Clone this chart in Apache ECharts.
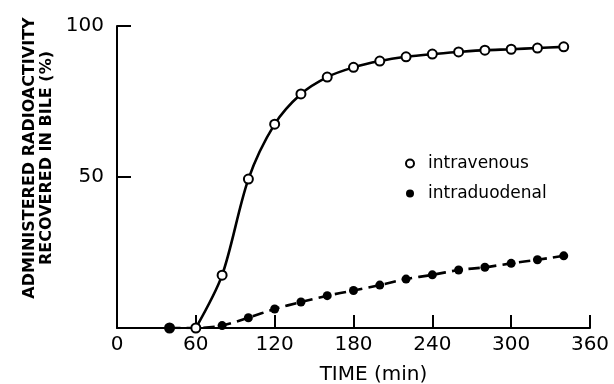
<!DOCTYPE html>
<html>
<head>
<meta charset="utf-8">
<script src="https://cdn.jsdelivr.net/npm/echarts@6/dist/echarts.min.js"></script>
<style>
html,body{margin:0;padding:0;background:#fff;}
#chart{width:614px;height:384px;}
</style>
</head>
<body>
<div id="chart"></div>
<script>
// Data
var timeMin = [40, 60, 80, 100, 120, 140, 160, 180, 200, 220, 240, 260, 280, 300, 320, 340];
var intravenous = [0, 0, 17.5, 49.3, 67.5, 77.5, 83.1, 86.3, 88.4, 89.8, 90.7, 91.4, 92.0, 92.3, 92.7, 93.1];
var intraduodenal = [0, 0, 0.8, 3.4, 6.3, 8.6, 10.7, 12.4, 14.2, 16.2, 17.6, 19.2, 20.1, 21.4, 22.6, 23.9];
var seriesNames = ['intravenous', 'intraduodenal'];
var xTicks = [0, 60, 120, 180, 240, 300, 360];
var yTicks = [0, 50, 100];
var xTitle = 'TIME (min)';
var yTitle = 'ADMINISTERED RADIOACTIVITY\nRECOVERED IN BILE (%)';

function pairs(xs, ys) { return xs.map(function (x, i) { return [x, ys[i]]; }); }

var ivPts = pairs(timeMin, intravenous);
var idPts = pairs(timeMin, intraduodenal);
// the intravenous curve rises from the 60-min point; the 40-min baseline point is drawn as a marker only
var ivBaseline = ivPts.slice(0, 1);
var ivCurve = ivPts.slice(1);

var FONT = 'DejaVu Sans';
var chart = echarts.init(document.getElementById('chart'), null, { renderer: 'canvas' });
chart.setOption({
  animation: false,
  backgroundColor: '#fff',
  textStyle: { fontFamily: FONT, color: '#000' },
  grid: { left: 117, right: 24, top: 26, bottom: 56, containLabel: false, outerBoundsMode: 'none' },
  legend: {
    orient: 'vertical',
    left: 400,
    top: 150,
    itemWidth: 26,
    itemHeight: 8,
    itemGap: 13,
    textStyle: { fontFamily: FONT, fontSize: 17, color: '#000', lineHeight: 17 },
    data: [
      { name: seriesNames[0], icon: 'emptyCircle' },
      { name: seriesNames[1], icon: 'circle' }
    ]
  },
  xAxis: {
    type: 'value',
    min: xTicks[0],
    max: xTicks[xTicks.length - 1],
    interval: xTicks[1] - xTicks[0],
    name: xTitle,
    nameLocation: 'middle',
    nameGap: 37,
    nameTextStyle: { fontFamily: FONT, fontSize: 20, color: '#000', padding: [0, 0, 0, 40] },
    axisLine: { lineStyle: { color: '#000', width: 2 } },
    axisTick: { inside: true, length: 13, lineStyle: { color: '#000', width: 2 } },
    axisLabel: { fontFamily: FONT, fontSize: 20, color: '#000', margin: 7 },
    splitLine: { show: false }
  },
  yAxis: {
    type: 'value',
    min: yTicks[0],
    max: yTicks[yTicks.length - 1],
    interval: yTicks[1] - yTicks[0],
    name: yTitle,
    nameLocation: 'middle',
    nameGap: 61,
    nameTextStyle: { fontFamily: FONT, fontSize: 16, fontWeight: 'bold', color: '#000', lineHeight: 17, padding: [0, 0, 0, 38] },
    axisLine: { lineStyle: { color: '#000', width: 2 } },
    axisTick: { inside: true, length: 14, lineStyle: { color: '#000', width: 2 } },
    axisLabel: {
      fontFamily: FONT, fontSize: 20, color: '#000', margin: 13,
      formatter: function (v) { return v === 0 ? '' : String(v); }
    },
    splitLine: { show: false }
  },
  series: [
    {
      name: seriesNames[1],
      type: 'line',
      data: idPts,
      smooth: 0.3,
      symbol: 'circle',
      symbolSize: 9,
      itemStyle: { color: '#000' },
      lineStyle: { color: '#000', width: 2.6, type: [11, 6] },
      z: 2
    },
    {
      name: seriesNames[0],
      type: 'line',
      data: ivCurve,
      smooth: 0.3,
      symbol: 'emptyCircle',
      symbolSize: 9,
      itemStyle: { color: '#000', borderColor: '#000', borderWidth: 1.7 },
      lineStyle: { color: '#000', width: 2.6, type: 'solid' },
      z: 3
    },
    {
      name: seriesNames[0],
      type: 'scatter',
      data: ivBaseline,
      symbol: 'emptyCircle',
      symbolSize: 9,
      itemStyle: { color: '#000', borderColor: '#000', borderWidth: 1.7, opacity: 1 },
      z: 1
    }
  ]
});
</script>
</body>
</html>
